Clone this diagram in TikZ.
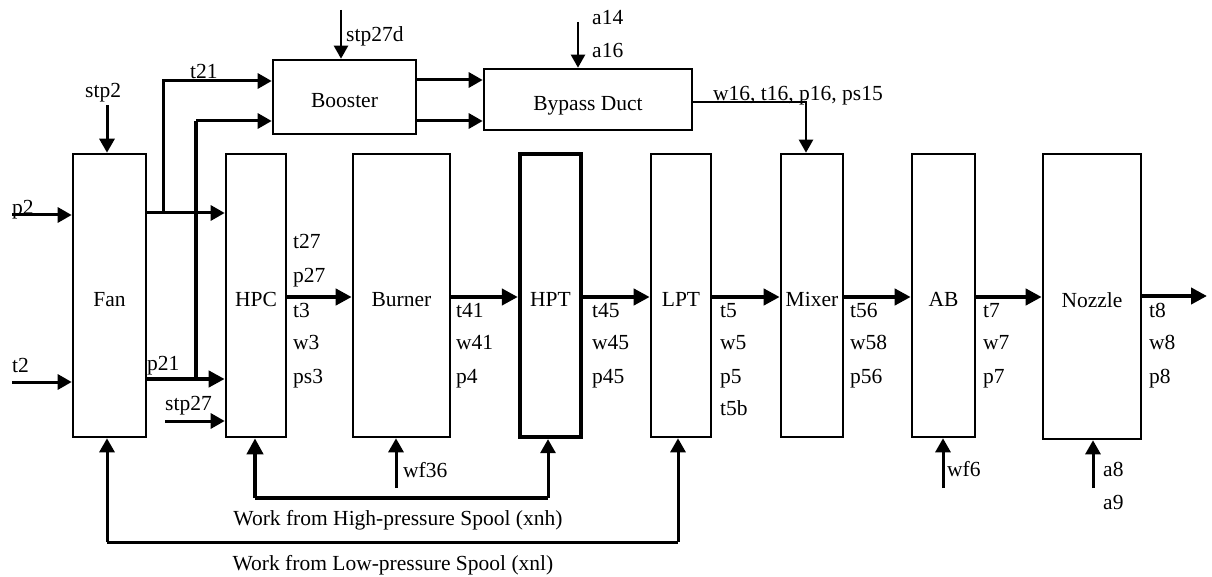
\documentclass[tikz,border=0pt]{standalone}
\usepackage{fontspec}
\setmainfont{Liberation Serif}
\usetikzlibrary{arrows.meta}
\newcommand\lblfont{\fontsize{21.5}{24}\selectfont}
\begin{document}
\begin{tikzpicture}[x=1pt,y=-1pt,
  box/.style={draw, line width=2.6pt, inner sep=0pt, font=\lblfont, text height=22pt, text depth=0pt},
  arr/.style={line width=2.3pt, -{Triangle[length=13pt,width=14pt]}},
  marr/.style={line width=3pt, -{Triangle[length=14pt,width=15pt]}},
  flow/.style={line width=4.5pt, -{Triangle[length=16pt,width=16pt]}},
  lbl/.style={font=\lblfont, inner sep=0pt, anchor=west, text height=15pt, text depth=4pt}]
\useasboundingbox (0,0) rectangle (1212,577);
% boxes
\node[box, minimum width=73pt, minimum height=283pt] (fan) at (109.5,295.5) {Fan};
\node[box, minimum width=60pt, minimum height=283pt] (hpc) at (256,295.5) {HPC};
\node[box, minimum width=97pt, minimum height=283pt] (burner) at (401.5,295.5) {Burner};
\node[box, line width=4.3pt, minimum width=61pt, minimum height=283pt] (hpt) at (550.5,295.5) {HPT};
\node[box, minimum width=60pt, minimum height=283pt] (lpt) at (681,295.5) {LPT};
\node[box, minimum width=62pt, minimum height=283pt] (mixer) at (812,295.5) {Mixer};
\node[box, minimum width=63pt, minimum height=283pt] (ab) at (943.5,295.5) {AB};
\node[box, minimum width=98pt, minimum height=285pt] (nozzle) at (1092,296.5) {Nozzle};
\node[box, minimum width=143pt, minimum height=74pt] (booster) at (344.5,97) {Booster};
\node[box, minimum width=208pt, minimum height=61pt] (bypass) at (588,99.5) {Bypass Duct};
% coordinates
\coordinate (p2in) at (12,215);
\coordinate (t2in) at (12,382);
\coordinate (stp2in) at (107,105);
\coordinate (ytop) at (0,213);
\coordinate (ybot) at (0,379);
\coordinate (j1) at (163,213);
\coordinate (j1t) at (163,81);
\coordinate (j2) at (196,379);
\coordinate (j2t) at (196,121);
\coordinate (stp27in) at (165,421);
\coordinate (stp27din) at (341,10);
\coordinate (yb1) at (0,80);
\coordinate (yb2) at (0,121);
\coordinate (a14in) at (578,22);
\coordinate (bpo) at (692,102);
\coordinate (bpc) at (806,102);
\coordinate (yflow) at (0,297);
\coordinate (outend) at (1207,296);
\coordinate (hi1) at (255,498);
\coordinate (hi2) at (548,498);
\coordinate (lo1) at (107,542);
\coordinate (lo2) at (678,542);
\coordinate (wf36in) at (396,488);
\coordinate (wf6in) at (943,488);
\coordinate (a8in) at (1093,488);
% inputs to fan
\draw[marr] (p2in) -- (p2in -| fan.west);
\draw[marr] (t2in) -- (t2in -| fan.west);
\draw[marr] (stp2in) -- (stp2in |- fan.north);
% fan to hpc
\draw[marr] (fan.east |- ytop) -- (hpc.west |- ytop);
\draw[flow] (fan.east |- ybot) -- (hpc.west |- ybot);
\draw[marr] (stp27in) -- (stp27in -| hpc.west);
% branches to booster
\draw[marr] (j1) -- (j1t) -- (j1t -| booster.west);
\draw[line width=4.5pt] (j2) -- (j2t);
\draw[marr] (j2t) -- (j2t -| booster.west);
\draw[arr] (stp27din) -- (stp27din |- booster.north);
% booster to bypass
\draw[marr] (booster.east |- yb1) -- (bypass.west |- yb1);
\draw[marr] (booster.east |- yb2) -- (bypass.west |- yb2);
\draw[arr] (a14in) -- (a14in |- bypass.north);
\draw[arr] (bpo) -- (bpc) -- (bpc |- mixer.north);
% main flow
\draw[flow] (hpc.east |- yflow) -- (burner.west |- yflow);
\draw[flow] (burner.east |- yflow) -- (hpt.west |- yflow);
\draw[flow] (hpt.east |- yflow) -- (lpt.west |- yflow);
\draw[flow] (lpt.east |- yflow) -- (mixer.west |- yflow);
\draw[flow] (mixer.east |- yflow) -- (ab.west |- yflow);
\draw[flow] (ab.east |- yflow) -- (nozzle.west |- yflow);
\draw[flow] (nozzle.east |- outend) -- (outend);
% spools
\draw[line width=4pt] (hi1) -- (hi2);
\draw[flow] (hi1) -- (hi1 |- hpc.south);
\draw[marr] (hi2) -- (hi2 |- hpt.south);
\draw[line width=3pt] (lo1) -- (lo2);
\draw[marr] (lo1) -- (lo1 |- fan.south);
\draw[marr] (lo2) -- (lo2 |- lpt.south);
\draw[marr] (wf36in) -- (wf36in |- burner.south);
\draw[marr] (wf6in) -- (wf6in |- ab.south);
\draw[marr] (a8in) -- (a8in |- nozzle.south);
% labels
\node[lbl] (lp2) at (12,209) {p2};
\node[lbl] (lt2) at (12,367) {t2};
\node[lbl] (lp21) at (147,365) {p21};
\node[lbl] (lstp27) at (165,405) {stp27};
\node[lbl] (lstp2) at (85,92) {stp2};
\node[lbl] (lt21) at (190,73) {t21};
\node[lbl] (lstp27d) at (346,36) {stp27d};
\node[lbl] (la14) at (592,19) {a14};
\node[lbl] (la16) at (592,52) {a16};
\node[lbl] (lw16) at (713,95) {w16, t16, p16, ps15};
\foreach \t/\y [count=\i] in {t27/243, p27/277, t3/312, w3/344, ps3/378}
  \node[lbl] (hpcl\i) at (293,\y) {\t};
\foreach \t/\y [count=\i] in {t41/312, w41/344, p4/378}
  \node[lbl] (burl\i) at (456,\y) {\t};
\foreach \t/\y [count=\i] in {t45/312, w45/344, p45/378}
  \node[lbl] (hptl\i) at (592,\y) {\t};
\foreach \t/\y [count=\i] in {t5/312, w5/344, p5/378, t5b/410}
  \node[lbl] (lptl\i) at (720,\y) {\t};
\foreach \t/\y [count=\i] in {t56/312, w58/344, p56/378}
  \node[lbl] (mixl\i) at (850,\y) {\t};
\foreach \t/\y [count=\i] in {t7/312, w7/344, p7/378}
  \node[lbl] (abl\i) at (983,\y) {\t};
\foreach \t/\y [count=\i] in {t8/312, w8/344, p8/378}
  \node[lbl] (nozl\i) at (1149,\y) {\t};
\node[lbl] (lwf36) at (403,472) {wf36};
\node[lbl] (lwf6) at (947,471) {wf6};
\node[lbl] (la8) at (1103,471) {a8};
\node[lbl] (la9) at (1103,504) {a9};
\node[lbl, anchor=center] (lhi) at (398,520) {Work from High-pressure Spool (xnh)};
\node[lbl, anchor=center] (llo) at (393,565) {Work from Low-pressure Spool (xnl)};
\end{tikzpicture}
\end{document}
